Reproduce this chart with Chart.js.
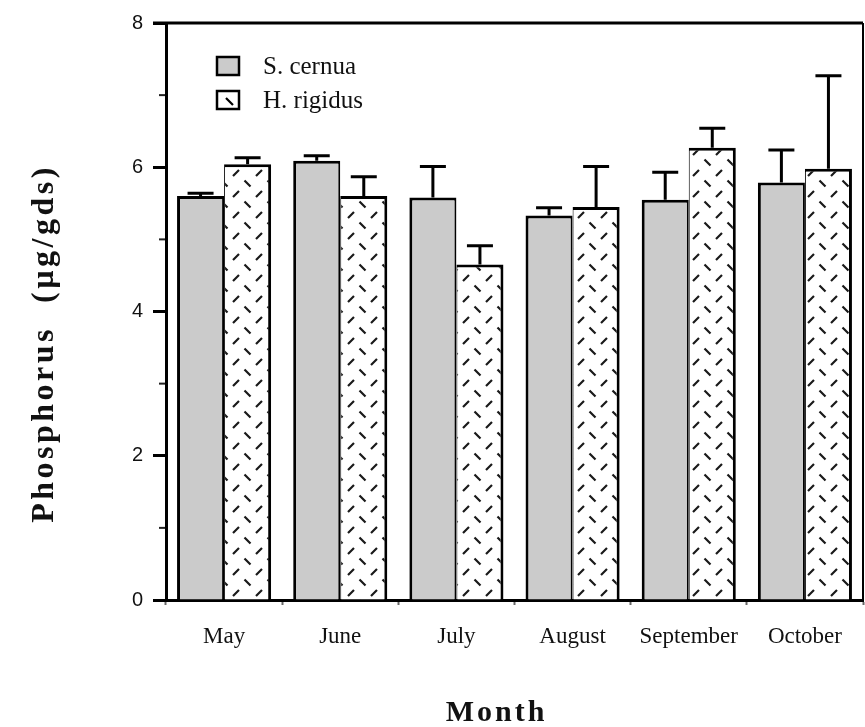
<!DOCTYPE html>
<html>
<head>
<meta charset="utf-8">
<script src="https://cdn.jsdelivr.net/npm/chart.js@4/dist/chart.umd.min.js"></script>
<style>
  html, body { margin: 0; padding: 0; background: #fff; }
  #wrap { width: 865px; height: 727px; }
</style>
</head>
<body>
<div id="wrap"><canvas id="c" width="865" height="727"></canvas></div>
<script>
// Monthly phosphorus content (µg/gds) for the two species
const months = ['May', 'June', 'July', 'August', 'September', 'October'];
const cernua = [5.60, 6.09, 5.58, 5.33, 5.55, 5.79];
const cernuaErr = [0.04, 0.07, 0.43, 0.11, 0.38, 0.45];
const rigidus = [6.04, 5.60, 4.65, 5.45, 6.27, 5.98];
const rigidusErr = [0.09, 0.27, 0.26, 0.56, 0.27, 1.29];
const seriesNames = ['S. cernua', 'H. rigidus'];
const yTicks = [0, 2, 4, 6, 8];
const yMinorTicks = [1, 3, 5, 7];

// Dashed lattice fill used for H. rigidus bars
function makeDashPattern() {
  const t = document.createElement('canvas');
  t.width = 23; t.height = 21;
  const g = t.getContext('2d');
  g.fillStyle = '#fff';
  g.fillRect(0, 0, 23, 21);
  g.strokeStyle = '#1a1a1a';
  g.lineWidth = 2.2;
  g.beginPath();
  g.moveTo(3, 8); g.lineTo(9, 2);             // "/"
  g.moveTo(14.5, 12.5); g.lineTo(20.5, 18.5); // "\"
  g.stroke();
  return g.createPattern(t, 'repeat');
}
const dashFill = makeDashPattern();
const grayFill = '#cbcbcb';

// Upward error bars with caps
const errorBars = {
  id: 'errorBars',
  afterDatasetsDraw(chart) {
    const c = chart.ctx, y = chart.scales.y;
    [cernuaErr, rigidusErr].forEach((errs, di) => {
      const meta = chart.getDatasetMeta(di);
      meta.data.forEach((bar, i) => {
        const v = chart.data.datasets[di].data[i];
        const top = y.getPixelForValue(v + errs[i]);
        c.save();
        c.strokeStyle = '#000';
        c.lineWidth = 3;
        c.beginPath();
        c.moveTo(bar.x, bar.y);
        c.lineTo(bar.x, top);
        c.moveTo(bar.x - 13, top);
        c.lineTo(bar.x + 13, top);
        c.stroke();
        c.restore();
      });
    });
  }
};

// Frame, minor ticks, legend and axis titles
const decorations = {
  id: 'decorations',
  afterDraw(chart) {
    const c = chart.ctx, a = chart.chartArea, y = chart.scales.y;
    c.save();
    // top and right frame lines
    c.strokeStyle = '#000';
    c.lineWidth = 3;
    c.beginPath();
    c.moveTo(a.left - 13, a.top);
    c.lineTo(a.right, a.top);
    c.stroke();
    c.lineWidth = 2;
    c.beginPath();
    c.moveTo(a.right, a.top);
    c.lineTo(a.right, a.bottom);
    c.stroke();
    // short minor ticks on the value axis
    c.lineWidth = 2;
    c.strokeStyle = '#222';
    yMinorTicks.forEach(v => {
      const py = y.getPixelForValue(v);
      c.beginPath();
      c.moveTo(a.left - 7, py);
      c.lineTo(a.left - 1, py);
      c.stroke();
    });

    // legend
    const lx = a.left + 51;
    const rows = [a.top + 34, a.top + 68];
    c.font = '25px "Liberation Serif"';
    c.textBaseline = 'middle';
    rows.forEach((ry, k) => {
      c.fillStyle = k === 0 ? grayFill : '#fff';
      c.fillRect(lx, ry, 22, 18);
      c.strokeStyle = '#000';
      c.lineWidth = 2.5;
      c.strokeRect(lx, ry, 22, 18);
      if (k === 1) {
        c.lineWidth = 2.2;
        c.beginPath();
        c.moveTo(lx + 9, ry + 7);
        c.lineTo(lx + 16, ry + 14);
        c.stroke();
      }
      c.fillStyle = '#111';
      c.fillText(seriesNames[k], lx + 46, ry + 10);
    });

    // axis titles
    c.fillStyle = '#111';
    c.textAlign = 'center';
    c.textBaseline = 'alphabetic';
    c.font = 'bold 30px "Liberation Serif"';
    c.letterSpacing = '3px';
    c.fillText('Month', (a.left + a.right) / 2 - 18, 721);
    c.font = 'bold 32px "Liberation Serif"';
    c.letterSpacing = '3.5px';
    c.translate(53, (a.top + a.bottom) / 2 + 32);
    c.rotate(-Math.PI / 2);
    c.fillText('Phosphorus  (µg/gds)', 0, 0);
    c.restore();
  }
};

new Chart(document.getElementById('c'), {
  type: 'bar',
  data: {
    labels: months,
    datasets: [
      {
        label: seriesNames[0], data: cernua,
        backgroundColor: grayFill, borderColor: '#000',
        borderWidth: { top: 3, left: 3, right: 2, bottom: 0 },
        categoryPercentage: 0.81, barPercentage: 1.0
      },
      {
        label: seriesNames[1], data: rigidus,
        backgroundColor: dashFill, borderColor: '#000',
        borderWidth: { top: 3, left: 1, right: 3, bottom: 0 },
        categoryPercentage: 0.81, barPercentage: 1.0
      }
    ]
  },
  options: {
    responsive: false,
    animation: false,
    devicePixelRatio: 1,
    layout: { padding: { left: 0, top: 23, right: 2, bottom: 0 } },
    plugins: { legend: { display: false }, tooltip: { enabled: false } },
    scales: {
      x: {
        grid: { offset: true, drawOnChartArea: false, tickLength: 5, tickWidth: 2, tickColor: '#666' },
        border: { width: 3, color: '#000' },
        ticks: { font: { family: 'Liberation Serif', size: 23 }, color: '#111', padding: 18, maxRotation: 0 },
        afterFit(s) { s.height = 127; }
      },
      y: {
        min: 0, max: 8,
        afterBuildTicks(s) { s.ticks = yTicks.map(v => ({ value: v })); },
        ticks: { font: { family: 'Liberation Sans', size: 20 }, color: '#111', padding: 10 },
        grid: { drawOnChartArea: false, tickLength: 13, tickWidth: 3, tickColor: '#000' },
        border: { width: 3, color: '#000' },
        afterFit(s) { s.width = 166; }
      }
    }
  },
  plugins: [errorBars, decorations]
});
</script>
</body>
</html>
